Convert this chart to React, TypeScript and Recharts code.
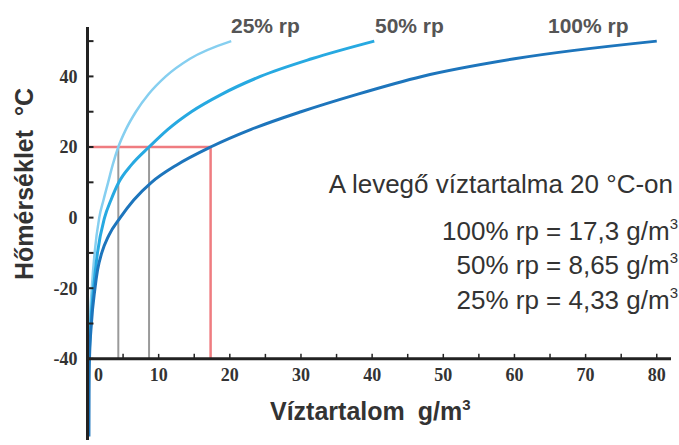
import React from 'react';
import { LineChart, Line, XAxis, YAxis, ReferenceLine, ReferenceDot } from 'recharts';

// Temperature (°C) and water content (g/m³)
const temps100 = [-62, -50, -40, -30, -20, -15, -10, -5, 0, 5, 10, 15, 20, 25, 30, 35, 40, 45, 50];
const vapor100 = [0.2, 0.22, 0.28, 0.55, 1.05, 1.4, 2.0, 3.0, 4.6, 6.5, 9.0, 12.6, 17.3, 23.0, 30.0, 38.0, 47.0, 60.0, 80.0];

const temps50 = [-40, -30, -20, -10, 0, 5, 10, 15, 20, 25, 30, 35, 40, 45, 50];
const vapor50 = [0.2, 0.45, 0.85, 1.4, 2.4, 3.3, 4.4, 6.2, 8.65, 11.3, 14.6, 18.9, 24.3, 31.5, 40.3];

const temps25 = [-40, -30, -20, -10, 0, 5, 10, 15, 20, 25, 30, 35, 40, 45, 50];
const vapor25 = [0.1, 0.3, 0.6, 1.0, 1.65, 2.25, 2.9, 3.55, 4.33, 5.4, 6.8, 8.6, 11.0, 14.4, 20.2];

const xTickMarks = [5, 10, 15, 20, 25, 30, 35, 40, 45, 50, 55, 60, 65, 70, 75, 80];
const xTickLabels = [0, 10, 20, 30, 40, 50, 60, 70, 80];
const yTicks = [-40, -30, -20, -10, 0, 10, 20, 30, 40, 50];
const yLabelTicks = [-40, -20, 0, 20, 40];

const refTemp = 20;
const refVapor100 = 17.3;
const refVapor50 = 8.65;
const refVapor25 = 4.33;
const axisFloor = -40;
const xMax = 82;

const toSeries = (temps: number[], vapor: number[]) => temps.map((t, i) => ({ x: vapor[i], t }));
const data100 = toSeries(temps100, vapor100);
const data50 = toSeries(temps50, vapor50);
const data25 = toSeries(temps25, vapor25);

const AXIS = '#222';
const RED = '#ef7c80';
const GRAY = '#9a9a9a';
const TXT = '#333';
const serif = 'Liberation Serif, Times New Roman, serif';
const sans = 'Liberation Sans, Arial, sans-serif';

export default function App() {
  return (
    <div style={{ position: 'absolute', left: 0, top: 0, width: 679, height: 445, background: '#fff' }}>
      <LineChart width={679} height={445} margin={{ top: 27, right: 8, bottom: 5, left: 28 }}>
        <XAxis dataKey="x" type="number" domain={[0, xMax]} allowDataOverflow hide />
        <YAxis
          type="number"
          domain={[-63, 54]}
          allowDataOverflow
          ticks={yTicks}
          interval={0}
          width={59.5}
          axisLine={{ stroke: AXIS, strokeWidth: 3 }}
          tickLine={{ stroke: AXIS, strokeWidth: 2 }}
          tickSize={-6}
          tickMargin={16}
          tickFormatter={(v: number) => (yLabelTicks.includes(v) ? String(v) : '')}
          tick={{ fill: TXT, fontSize: 18, fontFamily: serif, fontWeight: 'bold' }}
        />
        <ReferenceLine segment={[{ x: refVapor25, y: refTemp }, { x: refVapor25, y: axisFloor }]} stroke={GRAY} strokeWidth={2} />
        <ReferenceLine segment={[{ x: refVapor50, y: refTemp }, { x: refVapor50, y: axisFloor }]} stroke={GRAY} strokeWidth={2} />
        <ReferenceLine segment={[{ x: 0, y: refTemp }, { x: refVapor100, y: refTemp }]} stroke={RED} strokeWidth={2.5} />
        <ReferenceLine segment={[{ x: refVapor100, y: refTemp }, { x: refVapor100, y: axisFloor }]} stroke={RED} strokeWidth={2.5} />
        <Line data={data25} dataKey="t" type="monotone" stroke="#86cff0" strokeWidth={2.5} dot={false} isAnimationActive={false} />
        <Line data={data50} dataKey="t" type="monotone" stroke="#27a9e1" strokeWidth={3} dot={false} isAnimationActive={false} />
        <Line data={data100} dataKey="t" type="monotone" stroke="#1d75bc" strokeWidth={3} dot={false} isAnimationActive={false} />
        <ReferenceLine segment={[{ x: 0, y: axisFloor }, { x: xMax, y: axisFloor }]} stroke={AXIS} strokeWidth={3} />
        {xTickMarks.map((k) => (
          <ReferenceLine key={'tm' + k} segment={[{ x: k, y: axisFloor }, { x: k, y: axisFloor + 1.4 }]} stroke={AXIS} strokeWidth={1.5} />
        ))}
        {xTickLabels.map((k) => (
          <ReferenceDot
            key={'tl' + k}
            x={k}
            y={axisFloor}
            r={0}
            fill="none"
            stroke="none"
            label={{ value: String(k), position: 'bottom', offset: 9, fill: TXT, fontSize: 18, fontFamily: serif, fontWeight: 'bold', dx: k === 0 ? 11 : 0 }}
          />
        ))}
      </LineChart>
      <svg width={679} height={445} style={{ position: 'absolute', left: 0, top: 0, pointerEvents: 'none' }}>
        <text transform="translate(33,184) rotate(-90)" textAnchor="middle" fontFamily={sans} fontWeight="bold" fontSize={25} fill={TXT} style={{ whiteSpace: 'pre' }}>
          {'Hőmérséklet  °C'}
        </text>
        <text x={270} y={420} fontFamily={sans} fontWeight="bold" fontSize={25} fill={TXT} style={{ whiteSpace: 'pre' }}>
          {'Víztartalom '}
          <tspan dx={6}>g/m</tspan>
          <tspan dy={-10} fontSize={15}>3</tspan>
        </text>
        <text x={231} y={33} fontFamily={sans} fontWeight="bold" fontSize={21} fill="#555">25% rp</text>
        <text x={375} y={33} fontFamily={sans} fontWeight="bold" fontSize={21} fill="#555">50% rp</text>
        <text x={548} y={33} fontFamily={sans} fontWeight="bold" fontSize={21} fill="#555">100% rp</text>
        <text x={673} y={193} textAnchor="end" fontFamily={sans} fontSize={26} fill={TXT}>A levegő víztartalma 20 °C-on</text>
        <text x={678} y={240} textAnchor="end" fontFamily={sans} fontSize={26} fill={TXT}>
          100% rp = 17,3 g/m<tspan dy={-11} fontSize={15}>3</tspan>
        </text>
        <text x={678} y={274} textAnchor="end" fontFamily={sans} fontSize={26} fill={TXT}>
          50% rp = 8,65 g/m<tspan dy={-11} fontSize={15}>3</tspan>
        </text>
        <text x={678} y={309} textAnchor="end" fontFamily={sans} fontSize={26} fill={TXT}>
          25% rp = 4,33 g/m<tspan dy={-11} fontSize={15}>3</tspan>
        </text>
      </svg>
    </div>
  );
}
